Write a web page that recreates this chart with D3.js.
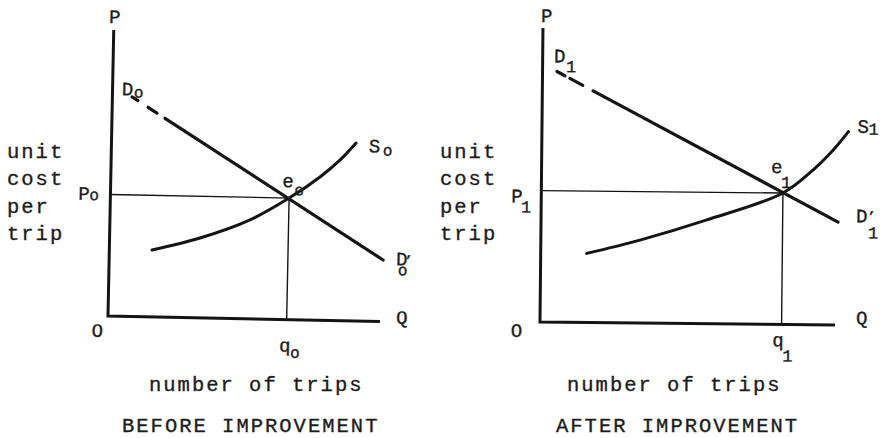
<!DOCTYPE html>
<head>
    <meta charset="utf-8">
    <script src="https://d3js.org/d3.v7.min.js"></script>
    <style>
        body { margin:0; background:#fff; }
        text { font-family:"Liberation Mono", "DejaVu Sans Mono", monospace; fill:#1c1c1c; stroke:#1c1c1c; stroke-width:0.35px; }
        .title { font-size:20.5px; letter-spacing:2px; }
        .lbl { font-size:19px; }
    </style>
</head>

<body>
<div id="chart"></div>
<script>

    // ******************** Data ************************
    // both diagrams are drawn on a 0..10 quantity / 0..10 price grid
    var qDomain = [0, 10];
    var pDomain = [0, 10];

    // before improvement
    var demand0 = [[0.16, 8.01], [10.07, 2.15]];
    var demand0Pieces = [[0.72, 0.94], [1.32, 1.65], [1.95, 10.07]]; // two dashes then solid
    var supply0 = [[1.57, 2.34], [3.32, 2.79], [5.15, 3.46], [6.57, 4.25], [7.69, 5.01], [8.42, 5.62], [8.99, 6.22]];
    var equil0 = [6.57, 4.25];

    // after improvement
    var demand1 = [[0.08, 8.74], [10.07, 3.50]];
    var demand1Pieces = [[0.49, 0.76], [0.93, 1.37], [1.72, 10.07]];
    var supply1 = [[1.56, 2.35], [3.36, 2.82], [5.62, 3.53], [8.19, 4.47], [9.21, 5.27], [9.88, 5.95], [10.39, 6.58]];
    var equil1 = [8.19, 4.47];

    var yTitle = ["unit", "cost", "per", "trip"];
    var xTitle = "number of trips";
    var panelTitles = ["BEFORE IMPROVEMENT", "AFTER IMPROVEMENT"];
    var subs = ["o", "1"];


    var svg = d3.select("#chart").append("svg")
        .attr("width", 884)
        .attr("height", 438);

    var ink = "#141414";

    function drawPanel(cfg) {
        var x = d3.scaleLinear().domain(qDomain).range([cfg.ox, cfg.ox + cfg.w]);
        var y = d3.scaleLinear().domain(pDomain).range([cfg.oy, cfg.oy - cfg.h]);
        var line = d3.line().x(function (d) { return x(d[0]); }).y(function (d) { return y(d[1]); });
        var curve = d3.line().curve(d3.curveCatmullRom)
            .x(function (d) { return x(d[0]); }).y(function (d) { return y(d[1]); });

        // the scanned drawing is slightly turned, so turn the plot with it
        var plot = svg.append("g")
            .attr("transform", "rotate(" + cfg.angle + "," + cfg.ox + "," + cfg.oy + ")");

        // axes
        plot.append("path")
            .attr("d", line([[0, pDomain[1]], [0, 0], [qDomain[1], 0]]))
            .attr("fill", "none").attr("stroke", ink).attr("stroke-width", 3);

        // guide lines to the equilibrium
        var eq = cfg.equil;
        plot.append("path")
            .attr("d", line([[0, eq[1]], eq, [eq[0], 0]]))
            .attr("fill", "none").attr("stroke", ink).attr("stroke-width", 1.4);

        // demand, dashed near the axis
        var d = cfg.demand;
        var slope = (d[1][1] - d[0][1]) / (d[1][0] - d[0][0]);
        function pAt(q) { return d[0][1] + slope * (q - d[0][0]); }
        cfg.pieces.forEach(function (s) {
            plot.append("path")
                .attr("d", line([[s[0], pAt(s[0])], [s[1], pAt(s[1])]]))
                .attr("stroke", ink).attr("stroke-width", 3.2).attr("stroke-linecap", "round");
        });

        // supply
        plot.append("path")
            .attr("d", curve(cfg.supply))
            .attr("fill", "none").attr("stroke", ink).attr("stroke-width", 3).attr("stroke-linecap", "round");

        // point labels (main letter, optional prime, subscript in one text)
        var anchors = {
            top: [0, pDomain[1]],
            origin: [0, 0],
            qEnd: [qDomain[1], 0],
            dStart: d[0],
            dEnd: d[1],
            sEnd: cfg.supply[cfg.supply.length - 1],
            eq: eq,
            pLevel: [0, eq[1]],
            qLevel: [eq[0], 0]
        };
        cfg.labels.forEach(function (l) {
            var a = anchors[l.at];
            var px = x(a[0]) + l.dx, py = y(a[1]) + l.dy;
            var t = plot.append("text").attr("class", "lbl")
                .attr("x", px).attr("y", py);
            t.append("tspan").text(l.t);
            if (l.prime) {
                t.append("tspan")
                    .attr("dx", l.prime[0]).attr("dy", l.prime[1])
                    .style("font-size", "13px").style("font-weight", "bold")
                    .text("\u2019");
            }
            if (l.sub) {
                t.append("tspan")
                    .attr("x", px + l.sdx).attr("y", py + l.sdy)
                    .style("font-size", cfg.subSize + "px")
                    .text(l.sub);
            }
        });

        // titles
        svg.append("g").selectAll("text")
            .data(yTitle)
            .enter()
            .append("text")
            .attr("class", "title")
            .attr("x", cfg.yTitleX)
            .attr("y", function (t, i) { return 158 + i * 27.3; })
            .text(function (t) { return t; });

        svg.append("text").attr("class", "title")
            .attr("x", cfg.xTitleX).attr("y", 391)
            .text(xTitle);

        svg.append("text").attr("class", "title")
            .attr("x", cfg.panelTitleX).attr("y", 432)
            .text(cfg.title);
    }


    drawPanel({
        ox: 108, oy: 316, w: 272, h: 286, angle: 1.15,
        demand: demand0, pieces: demand0Pieces, supply: supply0, equil: equil0,
        yTitleX: 7, xTitleX: 149, panelTitleX: 122, title: panelTitles[0],
        subSize: 16,
        labels: [
            {at: "top", t: "P", dx: -5, dy: -7},
            {at: "origin", t: "O", dx: -16, dy: 21},
            {at: "qEnd", t: "Q", dx: 16, dy: 2},
            {at: "dStart", t: "D", dx: 5, dy: 8, sub: subs[0], sdx: 12, sdy: 2},
            {at: "sEnd", t: "S", dx: 13, dy: 9, sub: subs[0], sdx: 14, sdy: 3},
            {at: "eq", t: "e", dx: -7, dy: -11, sub: subs[0], sdx: 12, sdy: 8},
            {at: "dEnd", t: "D", dx: 13, dy: 5, sub: subs[0], sdx: 2, sdy: 10, prime: [-3, -1]},
            {at: "pLevel", t: "P", dx: -32, dy: 6, sub: subs[0], sdx: 11, sdy: 0},
            {at: "qLevel", t: "q", dx: -7, dy: 32, sub: subs[0], sdx: 11, sdy: 6}
        ]
    });

    drawPanel({
        ox: 540, oy: 322, w: 295, h: 294, angle: 0.58,
        demand: demand1, pieces: demand1Pieces, supply: supply1, equil: equil1,
        yTitleX: 440, xTitleX: 567, panelTitleX: 556, title: panelTitles[1],
        subSize: 17,
        labels: [
            {at: "top", t: "P", dx: -2, dy: -6},
            {at: "origin", t: "O", dx: -29, dy: 15},
            {at: "qEnd", t: "Q", dx: 21, dy: -1},
            {at: "dStart", t: "D", dx: 9, dy: -3, sub: subs[1], sdx: 12, sdy: 10},
            {at: "sEnd", t: "S", dx: 9, dy: 1, sub: subs[1], sdx: 11, sdy: 2},
            {at: "eq", t: "e", dx: -12, dy: -20, sub: subs[1], sdx: 10, sdy: 15},
            {at: "dEnd", t: "D", dx: 18, dy: 0, sub: subs[1], sdx: 12, sdy: 16, prime: [0, -2]},
            {at: "pLevel", t: "P", dx: -30, dy: 12, sub: subs[1], sdx: 10, sdy: 10},
            {at: "qLevel", t: "q", dx: -9, dy: 22, sub: subs[1], sdx: 10, sdy: 15}
        ]
    });

</script>
</body>
